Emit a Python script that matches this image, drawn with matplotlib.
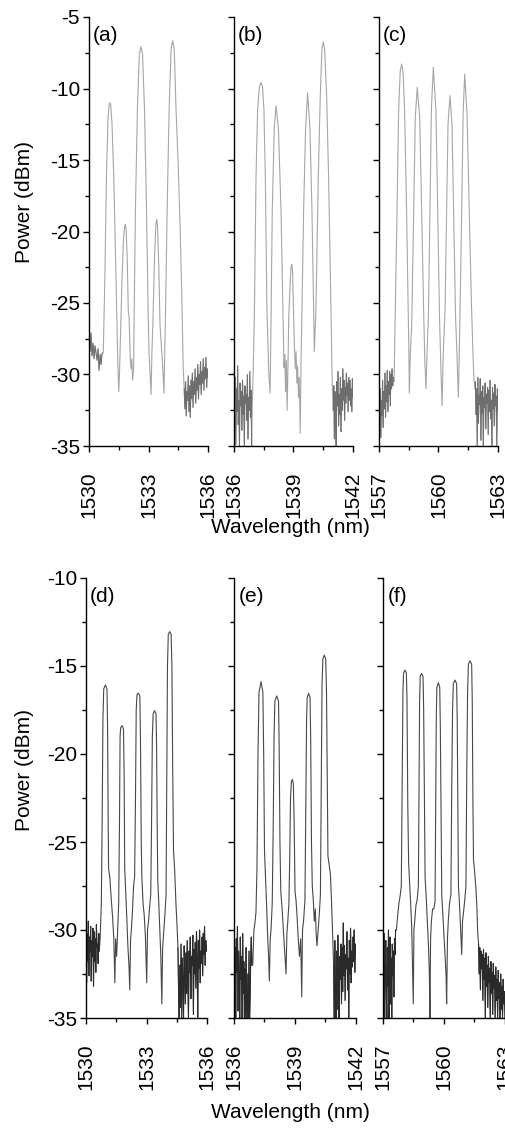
import numpy as np
import matplotlib
matplotlib.use("Agg")
import matplotlib.pyplot as plt
from matplotlib.ticker import MultipleLocator
from matplotlib.transforms import ScaledTranslation

plt.rcParams['font.family'] = ['Liberation Sans', 'DejaVu Sans']
plt.rcParams['font.size'] = 15
plt.rcParams['axes.unicode_minus'] = False

# ---- data (wavelength nm, power dBm) ----
# panel (a)
a_left = [-27.6, -28.4, -27.1, -28.7, -27.8, -28.9, -28.0, -28.5, -29.0, -28.2, -29.7, -28.6, -29.3, -28.5]
a_left_span = (1530.0, 1530.66)
a_wl = [1530.72, 1530.80, 1530.88, 1530.96, 1531.02, 1531.06, 1531.10, 1531.16, 1531.25, 1531.36, 1531.45, 1531.50,
        1531.54, 1531.58, 1531.66, 1531.74, 1531.80, 1531.83, 1531.87, 1531.93, 1531.98, 1532.02, 1532.08, 1532.12, 1532.16, 1532.20,
        1532.25, 1532.28, 1532.34, 1532.44, 1532.54, 1532.62, 1532.70, 1532.80, 1532.90, 1532.98, 1533.03, 1533.08, 1533.13,
        1533.17, 1533.22, 1533.30, 1533.37, 1533.41, 1533.45, 1533.52, 1533.58, 1533.65, 1533.72, 1533.78, 1533.81,
        1533.86, 1533.94, 1534.04, 1534.14, 1534.22, 1534.30, 1534.39, 1534.50, 1534.59, 1534.68, 1534.75]
a_pw = [-28.5, -23.2, -16.2, -12.0, -11.1, -11.0, -11.2, -12.5, -16.2, -23.2, -29.0, -31.2,
        -29.8, -27.7, -23.5, -20.5, -19.6, -19.5, -19.8, -22.0, -25.5, -26.0, -28.8, -29.6, -28.9, -30.4,
        -29.5, -25.5, -18.5, -11.5, -7.6, -7.07, -7.6, -11.5, -18.5, -25.5, -28.6, -30.0, -31.4,
        -28.5, -26.5, -22.0, -19.5, -19.15, -19.5, -22.5, -26.5, -28.0, -29.5, -31.3, -29.0,
        -25.5, -18.5, -11.5, -7.2, -6.66, -7.3, -11.5, -15.5, -19.5, -24.5, -29.5]
a_right = [-31.0, -32.4, -30.5, -32.9, -31.2, -31.8, -30.1, -32.6, -30.8, -33.0, -30.4, -31.7, -29.9, -32.3, -30.5, -31.4,
           -29.6, -32.0, -30.2, -31.1, -29.3, -31.7, -30.0, -30.7, -29.1, -31.4, -29.8, -30.6, -28.9, -31.1, -29.5, -30.3,
           -28.8, -30.9, -29.6, -30.2]
a_right_span = (1534.80, 1536.0)

# panel (b)
b_left = [-31.5, -33.8, -30.2, -34.9, -31.0, -32.6, -29.4, -33.5, -31.8, -35.0, -30.6, -32.2, -31.2, -33.9, -30.4,
          -32.8, -31.5, -35.0, -30.8, -32.0, -31.4, -33.2, -30.0, -34.5, -31.6, -32.5, -29.8, -33.0, -31.1, -35.0]
b_left_span = (1536.0, 1536.89)
b_wl = [1536.92, 1536.98, 1537.03, 1537.11, 1537.19, 1537.28, 1537.36, 1537.44, 1537.51, 1537.58, 1537.66, 1537.70, 1537.75, 1537.82,
        1537.86, 1537.93, 1538.03, 1538.12, 1538.24, 1538.37, 1538.48, 1538.52, 1538.56, 1538.60, 1538.64, 1538.68, 1538.72,
        1538.76, 1538.84, 1538.88, 1538.91, 1538.95, 1539.00, 1539.05, 1539.09, 1539.13, 1539.17, 1539.21, 1539.25, 1539.29, 1539.34, 1539.38,
        1539.42, 1539.51, 1539.61, 1539.71, 1539.83, 1539.93, 1540.01, 1540.05,
        1540.13, 1540.25, 1540.35, 1540.43, 1540.50, 1540.57, 1540.67, 1540.77, 1540.89, 1540.95]
b_pw = [-32.5, -29.0, -25.5, -16.2, -11.5, -9.9, -9.59, -9.9, -11.5, -16.2, -25.5, -27.2, -29.8, -31.3,
        -27.0, -18.5, -12.8, -11.2, -12.8, -18.5, -26.5, -29.5, -28.6, -31.2, -29.0, -32.5, -29.5,
        -26.0, -23.3, -22.5, -22.3, -22.7, -25.5, -28.2, -29.6, -28.4, -30.6, -29.4, -31.6, -30.2, -34.1, -29.0,
        -26.0, -18.5, -12.8, -10.3, -12.8, -18.5, -25.0, -28.4,
        -25.5, -16.2, -10.5, -7.3, -6.73, -7.3, -10.5, -16.2, -25.5, -30.5]
b_right = [-32.5, -30.8, -34.5, -31.2, -33.0, -35.0, -30.5, -32.2, -29.8, -33.6, -31.4, -32.8, -30.2, -34.0, -31.0, -32.5,
           -29.6, -31.8, -30.4, -33.2, -30.9, -32.0, -29.9, -31.5, -30.6, -32.6, -30.2, -31.8, -30.4, -32.2, -31.0, -32.6,
           -30.3, -31.6]
b_right_span = (1541.0, 1542.0)

# panel (c)
c_left = [-30.6, -33.2, -31.0, -34.4, -31.8, -32.9, -30.4, -33.7, -31.2, -32.4, -29.9, -33.0, -30.8, -31.9, -29.7,
          -32.6, -30.5, -31.4, -29.8, -32.2, -30.0, -31.0, -29.6, -30.8, -30.2]
c_left_span = (1557.0, 1557.72)
c_wl = [1557.76, 1557.84, 1557.91, 1557.99, 1558.07, 1558.14, 1558.21, 1558.29, 1558.39, 1558.46, 1558.50, 1558.53,
        1558.58, 1558.65, 1558.75, 1558.83, 1558.93, 1559.05, 1559.15, 1559.25, 1559.31, 1559.37,
        1559.42, 1559.49, 1559.57, 1559.64, 1559.74, 1559.87, 1559.96, 1560.05, 1560.12, 1560.18,
        1560.24, 1560.33, 1560.41, 1560.48, 1560.58, 1560.68, 1560.76, 1560.86, 1560.93, 1561.00,
        1561.04, 1561.08, 1561.17, 1561.24, 1561.32, 1561.44, 1561.55, 1561.66, 1561.76, 1561.82]
c_pw = [-30.5, -24.0, -18.5, -11.5, -8.8, -8.29, -8.8, -11.5, -18.5, -24.5, -27.8, -31.3,
        -28.5, -26.5, -18.5, -12.0, -9.92, -12.0, -18.5, -25.5, -29.0, -31.0,
        -28.5, -26.0, -18.5, -11.5, -8.52, -11.5, -18.5, -26.0, -29.5, -32.2,
        -28.5, -25.5, -18.5, -12.5, -10.5, -12.5, -18.5, -26.0, -28.5, -31.6,
        -29.0, -26.0, -18.5, -11.8, -8.99, -11.8, -18.5, -25.0, -29.5, -31.0]
c_right = [-30.5, -32.8, -31.0, -35.0, -30.2, -33.4, -31.5, -32.1, -30.3, -34.6, -31.2, -32.7, -30.8, -35.0, -31.6,
           -32.3, -30.6, -33.8, -31.4, -32.0, -30.9, -34.2, -31.1, -32.6, -30.4, -33.1, -31.8, -35.0, -30.9, -32.4,
           -31.3, -33.6, -30.7, -32.2, -31.5, -35.0, -31.0, -32.5]
c_right_span = (1561.86, 1563.0)

# panel (d)
d_left = [-28.6, -33.0, -30.2, -31.8, -29.5, -32.6, -30.4, -31.2, -29.8, -32.9, -30.6, -31.5, -29.9, -33.2, -30.1,
          -31.8, -30.5, -32.4, -29.7, -31.0, -30.8, -31.9, -30.2, -31.2]
d_left_span = (1530.0, 1530.66)
d_wl = [1530.70, 1530.76, 1530.80, 1530.84, 1530.88, 1530.96, 1531.04, 1531.07, 1531.10, 1531.12, 1531.18, 1531.25, 1531.32, 1531.38, 1531.43, 1531.47,
        1531.52, 1531.57, 1531.62, 1531.66, 1531.69, 1531.72, 1531.79, 1531.86, 1531.89, 1531.92, 1531.97, 1532.03, 1532.08, 1532.13, 1532.17, 1532.21,
        1532.25, 1532.30, 1532.36, 1532.41, 1532.45, 1532.49, 1532.53, 1532.60, 1532.67, 1532.70, 1532.74, 1532.77, 1532.83, 1532.89, 1532.95, 1533.01, 1533.05,
        1533.10, 1533.16, 1533.21, 1533.25, 1533.29, 1533.33, 1533.40, 1533.47, 1533.50, 1533.53, 1533.56, 1533.61, 1533.66, 1533.71, 1533.76, 1533.80,
        1533.86, 1533.92, 1533.97, 1534.00, 1534.04, 1534.08, 1534.15, 1534.22, 1534.26, 1534.30, 1534.34, 1534.40, 1534.46, 1534.52]
d_pw = [-30.5, -28.5, -24.0, -18.0, -16.3, -16.08, -16.3, -18.5, -24.0, -26.5, -27.0, -28.2, -29.3, -30.5, -33.0, -30.5,
        -31.5, -30.0, -28.5, -24.0, -19.0, -18.5, -18.39, -18.6, -21.0, -26.5, -27.8, -29.5, -31.0, -32.0, -33.4, -30.5,
        -30.0, -29.0, -27.5, -27.0, -23.0, -17.5, -16.6, -16.55, -16.7, -19.0, -25.0, -27.0, -28.5, -29.2, -30.5, -33.0, -30.0,
        -29.5, -28.6, -28.0, -24.0, -19.0, -17.7, -17.54, -17.7, -19.5, -24.0, -27.2, -28.5, -30.0, -31.5, -34.2, -31.0,
        -30.0, -29.0, -28.0, -22.0, -15.0, -13.2, -13.05, -13.2, -15.0, -21.0, -25.5, -26.7, -28.5, -29.9]
d_right = [-31.0, -33.5, -35.0, -32.0, -34.4, -30.8, -35.0, -31.6, -33.0, -35.0, -30.9, -32.6, -34.2, -31.3, -33.6, -30.6,
           -32.8, -35.0, -31.2, -32.4, -30.4, -33.9, -31.5, -32.0, -30.3, -34.8, -31.1, -32.5, -30.7, -33.3, -30.1, -31.8,
           -35.0, -30.6, -32.2, -30.0, -33.0, -31.2, -31.9, -30.4, -32.6, -30.2, -31.4, -29.8, -32.0, -30.6, -31.2, -30.9]
d_right_span = (1534.56, 1536.0)

# panel (e)
e_left = [-30.0, -33.8, -31.0, -35.0, -30.5, -32.4, -29.8, -34.6, -31.2, -33.0, -35.0, -30.4, -32.8, -31.5, -35.0, -30.2,
          -33.6, -31.8, -35.0, -32.2, -35.0, -31.0, -34.4, -35.0, -32.5, -35.0, -31.2, -35.0, -33.8, -31.5, -30.4, -32.0]
e_left_span = (1536.0, 1536.88)
e_wl = [1536.92, 1536.98, 1537.03, 1537.08, 1537.13, 1537.18, 1537.23, 1537.33, 1537.42, 1537.46, 1537.50, 1537.55, 1537.61, 1537.66, 1537.70, 1537.74, 1537.78,
        1537.82, 1537.88, 1537.93, 1537.97, 1538.01, 1538.10, 1538.19, 1538.22, 1538.26, 1538.30, 1538.36, 1538.42, 1538.48, 1538.53, 1538.56, 1538.60,
        1538.64, 1538.70, 1538.74, 1538.78, 1538.82, 1538.87, 1538.92, 1538.96, 1539.00, 1539.05, 1539.10, 1539.16, 1539.22, 1539.28, 1539.33, 1539.37,
        1539.42, 1539.49, 1539.53, 1539.57, 1539.60, 1539.67, 1539.74, 1539.77, 1539.81, 1539.85, 1539.90, 1539.95, 1540.00, 1540.04, 1540.08,
        1540.14, 1540.20, 1540.25, 1540.29, 1540.33, 1540.37, 1540.44, 1540.51, 1540.55, 1540.59, 1540.62, 1540.68, 1540.74, 1540.80, 1540.86]
e_pw = [-32.0, -30.0, -29.6, -29.0, -26.5, -20.0, -16.5, -15.89, -16.5, -20.0, -25.5, -27.0, -28.8, -30.5, -31.5, -32.9, -30.5,
        -30.0, -28.5, -24.0, -19.0, -17.0, -16.70, -17.0, -19.5, -25.0, -27.8, -28.7, -29.8, -31.0, -32.0, -32.5, -30.2,
        -29.6, -28.5, -26.0, -22.5, -21.6, -21.44, -21.7, -24.0, -27.8, -28.3, -29.2, -30.5, -31.5, -30.5, -33.8, -30.0,
        -29.5, -28.3, -23.0, -18.0, -16.8, -16.55, -16.8, -19.0, -25.0, -27.5, -28.3, -29.5, -28.8, -30.2, -30.9,
        -30.0, -29.0, -28.0, -22.0, -16.0, -14.6, -14.38, -14.6, -16.5, -22.0, -25.8, -26.3, -26.8, -28.5, -30.5]
e_right = [-32.0, -35.0, -30.6, -33.8, -35.0, -31.2, -34.5, -30.3, -33.0, -35.0, -31.5, -32.8, -30.8, -34.2, -31.0, -33.5,
           -29.6, -32.6, -30.9, -34.0, -31.4, -32.2, -30.1, -33.4, -31.6, -35.0, -30.6, -32.5, -29.9, -33.0, -31.2, -32.1,
           -30.4, -31.8, -30.0, -32.4, -30.8, -31.5]
e_right_span = (1540.90, 1542.0)

# panel (f)
f_left = [-31.8, -34.0, -30.2, -35.0, -32.4, -30.6, -33.5, -35.0, -31.0, -33.2, -30.0, -35.0, -32.0, -30.4, -34.2, -31.6,
          -35.0, -30.8, -32.6, -31.2, -33.8, -30.5, -31.4, -30.0]
f_left_span = (1557.0, 1557.62)
f_wl = [1557.66, 1557.72, 1557.78, 1557.85, 1557.90, 1557.94, 1557.98, 1558.01, 1558.08, 1558.15, 1558.18, 1558.22, 1558.26, 1558.31, 1558.36, 1558.41, 1558.45, 1558.49, 1558.52,
        1558.56, 1558.62, 1558.68, 1558.74, 1558.77, 1558.80, 1558.83, 1558.90, 1558.97, 1559.00, 1559.04, 1559.07, 1559.12, 1559.18, 1559.24, 1559.28, 1559.31, 1559.34,
        1559.38, 1559.44, 1559.50, 1559.56, 1559.59, 1559.62, 1559.65, 1559.72, 1559.79, 1559.82, 1559.86, 1559.89, 1559.95, 1560.00, 1560.05, 1560.10, 1560.13, 1560.17,
        1560.21, 1560.27, 1560.34, 1560.38, 1560.42, 1560.46, 1560.54, 1560.62, 1560.65, 1560.68, 1560.71, 1560.76, 1560.82, 1560.87, 1560.91,
        1560.96, 1561.02, 1561.08, 1561.12, 1561.16, 1561.20, 1561.28, 1561.36, 1561.39, 1561.42, 1561.45, 1561.50, 1561.56, 1561.61, 1561.66]
f_pw = [-30.0, -29.2, -28.5, -28.0, -27.5, -22.0, -16.5, -15.4, -15.23, -15.4, -17.0, -23.0, -26.2, -27.3, -28.5, -29.8, -32.0, -34.2, -30.0,
        -29.5, -28.6, -28.3, -27.5, -22.0, -17.0, -15.6, -15.42, -15.6, -17.5, -23.0, -27.0, -28.0, -29.5, -31.0, -32.5, -35.0, -30.5,
        -29.5, -28.8, -28.8, -28.4, -23.0, -18.0, -16.2, -15.95, -16.2, -18.5, -24.0, -28.0, -29.3, -30.5, -31.5, -32.5, -34.2, -30.5,
        -29.5, -28.5, -28.0, -22.0, -17.5, -16.0, -15.80, -16.0, -18.0, -23.0, -27.5, -28.5, -30.0, -31.4, -29.5,
        -29.0, -28.3, -27.5, -21.0, -16.5, -14.9, -14.70, -14.9, -17.0, -22.5, -26.0, -26.6, -27.5, -28.5, -30.2]
f_right = [-30.8, -32.5, -31.0, -33.4, -31.2, -32.2, -31.4, -34.0, -31.1, -32.8, -31.6, -35.0, -31.3, -33.2, -32.0, -34.4,
           -31.5, -33.0, -32.2, -35.0, -31.8, -33.6, -32.4, -34.8, -31.9, -33.3, -32.6, -35.0, -32.1, -34.0, -32.8, -35.0,
           -32.3, -33.9, -33.0, -35.0, -32.5, -34.5, -33.2, -35.0, -32.8, -34.2, -33.5, -35.0]
f_right_span = (1561.70, 1563.0)

panel_labels = ['(a)', '(b)', '(c)', '(d)', '(e)', '(f)']
x_ranges = [(1530, 1536), (1536, 1542), (1557, 1563)]

panels = [
    (a_left, a_left_span, a_wl, a_pw, a_right, a_right_span),
    (b_left, b_left_span, b_wl, b_pw, b_right, b_right_span),
    (c_left, c_left_span, c_wl, c_pw, c_right, c_right_span),
    (d_left, d_left_span, d_wl, d_pw, d_right, d_right_span),
    (e_left, e_left_span, e_wl, e_pw, e_right, e_right_span),
    (f_left, f_left_span, f_wl, f_pw, f_right, f_right_span),
]

W, H = 505, 1129
fig = plt.figure(figsize=(W / 100, H / 100), dpi=100)

# axes boxes in pixels: left, top, right, bottom
boxes = [(89, 17, 208, 446), (234, 17, 353, 446), (379, 17, 498, 446),
         (86, 578, 207, 1018), (234, 578, 356, 1018), (383, 578, 505, 1018)]

axes = []
for i, (left, lspan, wl, pw, right, rspan) in enumerate(panels):
    lx = np.linspace(lspan[0], lspan[1], len(left))
    rx = np.linspace(rspan[0], rspan[1], len(right))
    x = np.concatenate([lx, wl, rx])
    y = np.concatenate([left, pw, right])

    l, t, r, b = boxes[i]
    ax = fig.add_axes([l / W, 1 - b / H, (r - l) / W, (b - t) / H])
    axes.append(ax)
    top_row = i < 3
    if top_row:
        ax.plot(x, y, color='#a6a6a6', lw=0.8)
        # the dense noise floor renders darker in the original
        ax.plot(lx, left, color='#6e6e6e', lw=0.7)
        ax.plot(rx, right, color='#6e6e6e', lw=0.7)
    else:
        ax.plot(x, y, color='#484848', lw=0.8)
        ax.plot(lx, left, color='#2a2a2a', lw=0.7)
        ax.plot(rx, right, color='#2a2a2a', lw=0.7)
    ax.set_xlim(*x_ranges[i % 3])
    ax.set_ylim(-35, -5 if top_row else -10)
    ax.xaxis.set_major_locator(MultipleLocator(3))
    ax.xaxis.set_minor_locator(MultipleLocator(1.5))
    ax.yaxis.set_major_locator(MultipleLocator(5))
    ax.yaxis.set_minor_locator(MultipleLocator(2.5))
    for s in ['top', 'right']:
        ax.spines[s].set_visible(False)
    for s in ['left', 'bottom']:
        ax.spines[s].set_linewidth(1.0)
    ax.tick_params(which='both', direction='out', width=1.0)
    ax.tick_params(which='major', length=4.5)
    ax.tick_params(which='minor', length=3)
    ax.tick_params(axis='x', which='major', pad=14, labelrotation=90)
    ax.tick_params(axis='y', which='major', pad=2)
    if i % 3 != 0:
        ax.tick_params(axis='y', labelleft=False)
    ax.text(0.035, 0.958, panel_labels[i], transform=ax.transAxes, ha='left', va='center')

fig.text(290 / W, 1 - 527 / H, 'Wavelength (nm)', ha='center', va='center')
fig.text(290 / W, 1 - 1113 / H, 'Wavelength (nm)', ha='center', va='center')
fig.text(25 / W, 1 - 202 / H, 'Power (dBm)', rotation=90, ha='center', va='center')
fig.text(25 / W, 1 - 770 / H, 'Power (dBm)', rotation=90, ha='center', va='center')

# keep the last label of panel (c) inside the figure, as in the original
fig.canvas.draw()
last = axes[2].xaxis.get_major_ticks()[-1].label1
last.set_transform(last.get_transform() + ScaledTranslation(-3 / 72, 0, fig.dpi_scale_trans))

fig.savefig('out.png', dpi=100)
